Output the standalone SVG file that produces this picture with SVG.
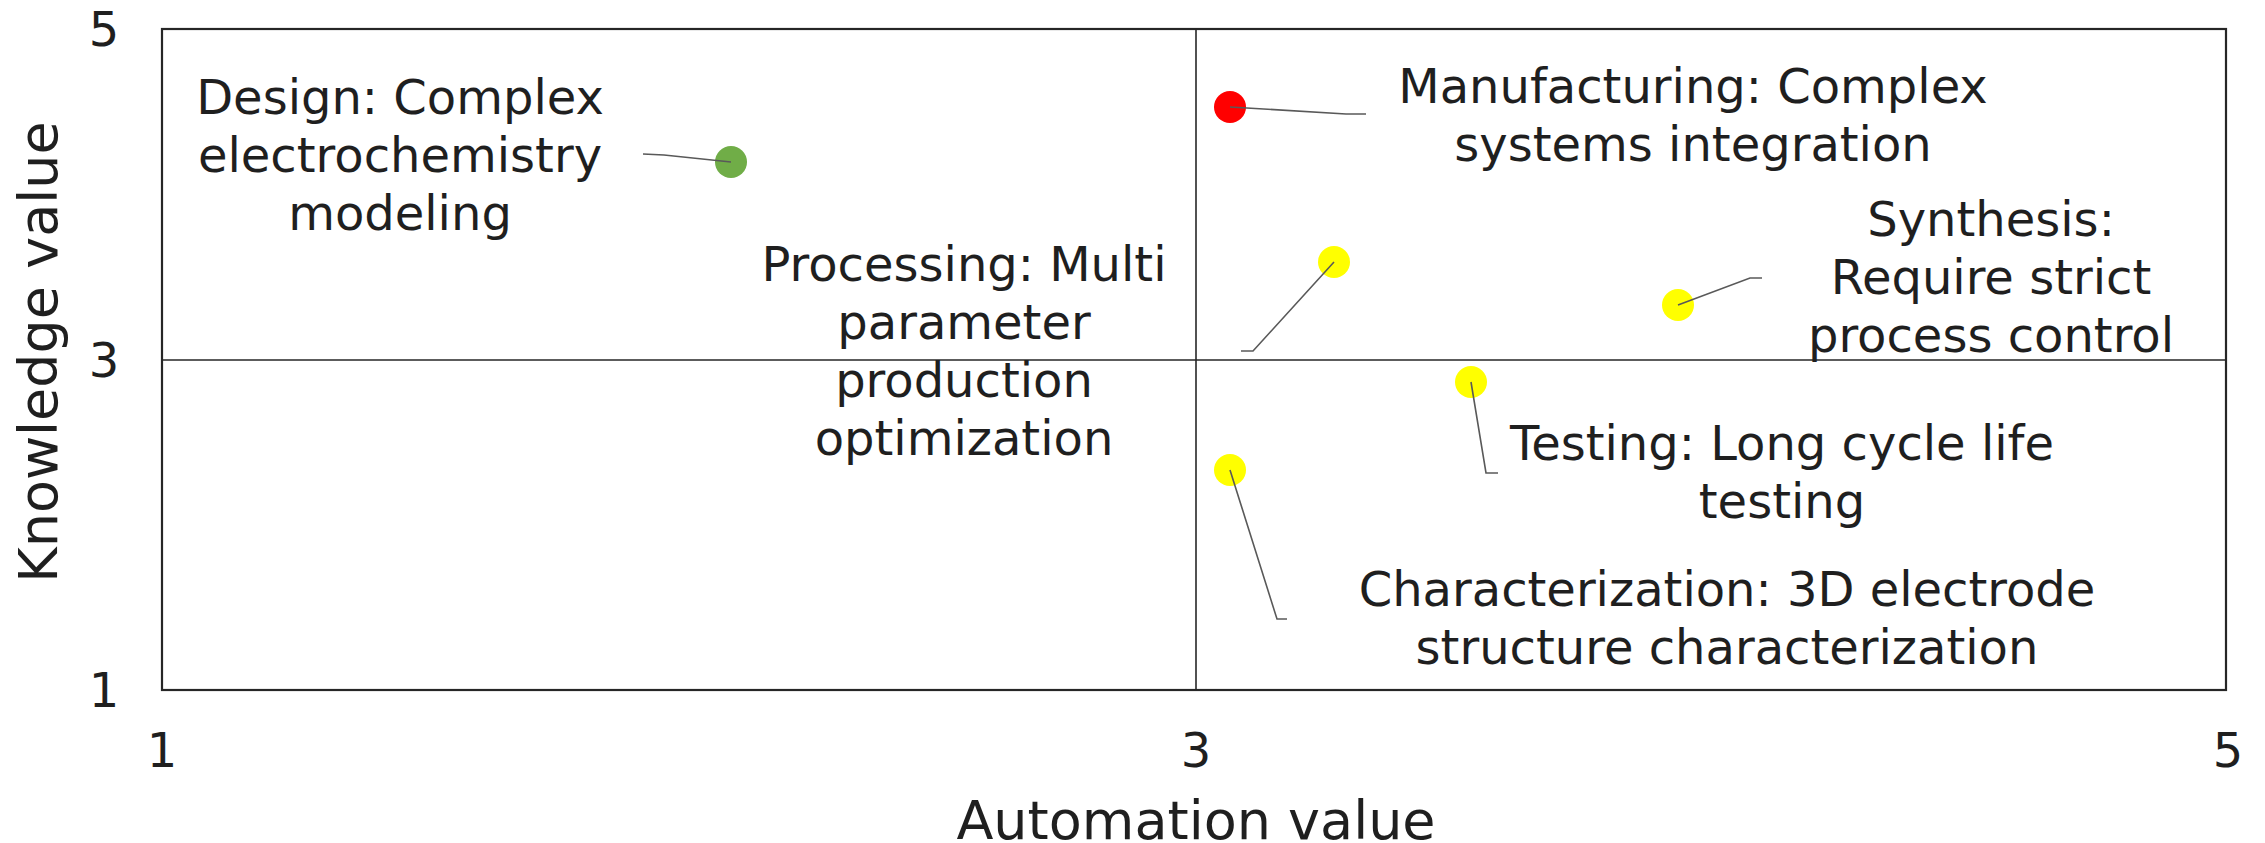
<svg xmlns="http://www.w3.org/2000/svg" width="2265" height="843" viewBox="0 0 2265 843">
  <style>
    text { font-family: "DejaVu Sans", "Liberation Sans", sans-serif; fill: #1f1f1f; }
    .lbl { font-size: 48px; text-anchor: middle; }
    .tick { font-size: 48px; text-anchor: middle; }
    .axis { font-size: 54px; text-anchor: middle; }
    .frame { fill: none; stroke: #262626; stroke-width: 2.2; }
    .grid { stroke: #262626; stroke-width: 1.6; }
    .leader { fill: none; stroke: #595959; stroke-width: 1.6; }
  </style>

  <!-- plot frame and quadrant lines -->
  <g id="plot-area">
    <rect class="frame" x="162" y="29" width="2064" height="661"/>
    <line class="grid" x1="1196" y1="29" x2="1196" y2="690"/>
    <line class="grid" x1="162" y1="360" x2="2226" y2="360"/>
  </g>

  <!-- axis ticks and titles -->
  <g id="axes">
    <text class="tick" x="104" y="46">5</text>
    <text class="tick" x="104" y="377">3</text>
    <text class="tick" x="104" y="707">1</text>
    <text class="tick" x="162" y="767">1</text>
    <text class="tick" x="1196" y="767">3</text>
    <text class="tick" x="2228" y="767">5</text>
    <text class="axis" x="1196" y="839">Automation value</text>
    <text class="axis" transform="translate(57 352) rotate(-90)">Knowledge value</text>
  </g>

  <!-- data points -->
  <g id="design">
    <circle cx="731" cy="162" r="16" fill="#70AD47"/>
    <text class="lbl"><tspan x="400" y="114">Design: Complex</tspan><tspan x="400" y="172">electrochemistry</tspan><tspan x="400" y="230">modeling</tspan></text>
  </g>
  <g id="manufacturing">
    <circle cx="1230" cy="107" r="16" fill="#FF0000"/>
    <text class="lbl"><tspan x="1693" y="103">Manufacturing: Complex</tspan><tspan x="1693" y="161">systems integration</tspan></text>
  </g>
  <g id="processing">
    <circle cx="1334" cy="262" r="16" fill="#FFFF00"/>
    <text class="lbl"><tspan x="964" y="281">Processing: Multi</tspan><tspan x="964" y="339">parameter</tspan><tspan x="964" y="397">production</tspan><tspan x="964" y="455">optimization</tspan></text>
  </g>
  <g id="synthesis">
    <circle cx="1678" cy="305" r="16" fill="#FFFF00"/>
    <text class="lbl"><tspan x="1991" y="236">Synthesis:</tspan><tspan x="1991" y="294">Require strict</tspan><tspan x="1991" y="352">process control</tspan></text>
  </g>
  <g id="testing">
    <circle cx="1471" cy="382" r="16" fill="#FFFF00"/>
    <text class="lbl"><tspan x="1782" y="460">Testing: Long cycle life</tspan><tspan x="1782" y="518">testing</tspan></text>
  </g>
  <g id="characterization">
    <circle cx="1230" cy="470" r="16" fill="#FFFF00"/>
    <text class="lbl"><tspan x="1727" y="606">Characterization: 3D electrode</tspan><tspan x="1727" y="664">structure characterization</tspan></text>
  </g>

  <!-- label leader lines -->
  <g id="connectors">
    <polyline class="leader" points="731,162 664,155 643,154"/>
    <polyline class="leader" points="1230,107 1346,114 1366,114"/>
    <polyline class="leader" points="1334,262 1253,351 1241,351"/>
    <polyline class="leader" points="1678,305 1750,278 1762,278"/>
    <polyline class="leader" points="1471,382 1486,473 1498,473"/>
    <polyline class="leader" points="1230,470 1277,619 1287,619"/>
  </g>
</svg>
